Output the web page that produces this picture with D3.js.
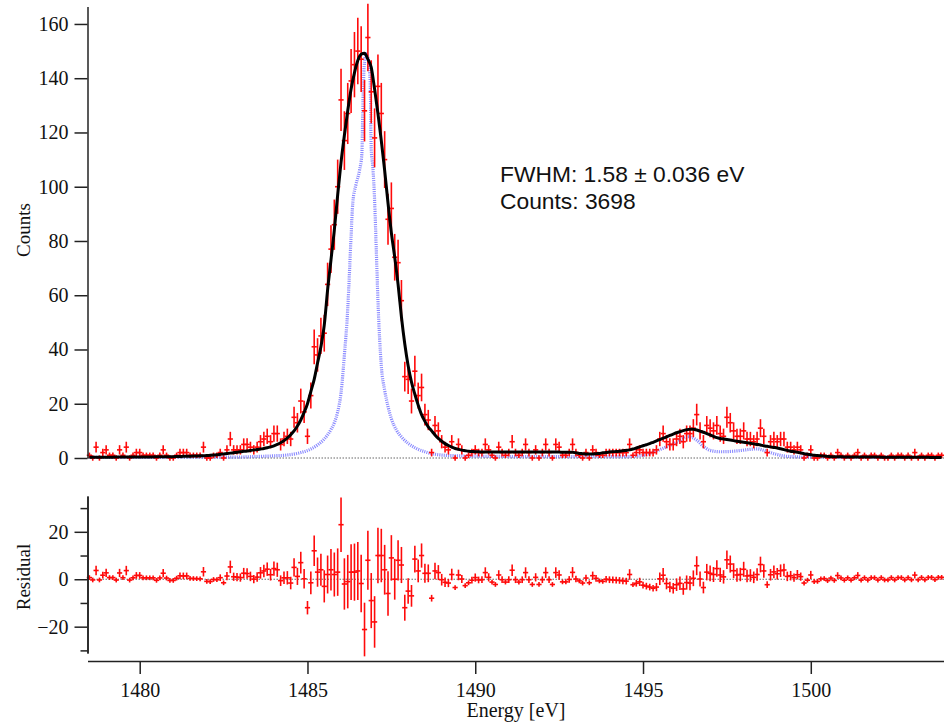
<!DOCTYPE html>
<html>
<head>
<meta charset="utf-8">
<script src="https://cdn.jsdelivr.net/npm/d3@7/dist/d3.min.js"></script>
<style>
  body { margin: 0; background: #fff; }
  svg { display: block; }
</style>
</head>
<body>
<svg id="chart" width="944" height="722"></svg>
<script>
// histogram binning: 0.1 eV bins, first bin centre at 1478.5 eV
var BIN_START = 1478.5;
var BIN_WIDTH = 0.1;

// measured counts per bin
var counts = [
    1, 0, 4, 0, 2, 3, 1, 1, 0, 3,
    1, 4, 0, 1, 2, 2, 1, 1, 1, 1,
    0, 1, 3, 1, 0, 0, 1, 2, 2, 2,
    1, 1, 1, 1, 4, 0, 0, 1, 1, 2,
    0, 3, 7, 3, 3, 3, 5, 5, 4, 3,
    4, 6, 7, 8, 6, 9, 9, 5, 7, 8,
    7, 15, 13, 21, 17, 8, 23, 41, 38, 45,
    46, 64, 77, 86, 100, 132, 117, 127, 139, 145,
    150, 147, 128, 155, 135, 118, 137, 127, 110, 88,
    92, 74, 72, 58, 30, 29, 21, 32, 23, 26,
    16, 14, 2, 12, 10, 6, 4, 3, 6, 0,
    5, 3, 0, 1, 2, 3, 2, 2, 5, 3,
    1, 0, 4, 2, 1, 2, 6, 2, 1, 2,
    5, 2, 0, 3, 0, 2, 5, 2, 0, 5,
    4, 1, 1, 2, 5, 2, 1, 0, 2, 0,
    3, 2, 1, 1, 2, 2, 2, 2, 2, 2,
    2, 5, 1, 2, 3, 2, 2, 2, 2, 3,
    7, 9, 6, 5, 5, 7, 8, 6, 9, 9,
    11, 16, 10, 6, 12, 11, 10, 12, 9, 8,
    15, 13, 10, 8, 8, 10, 7, 7, 6, 7,
    11, 8, 2, 6, 7, 6, 7, 7, 4, 4,
    3, 4, 3, 0, 1, 3, 0, 0, 1, 1,
    0, 1, 0, 2, 1, 0, 1, 0, 1, 2,
    0, 1, 0, 1, 1, 0, 1, 0, 0, 1,
    0, 1, 1, 0, 1, 0, 2, 0, 1, 0,
    1, 1, 0, 1, 1
];

// fitted model, same bins
var fit = [
    .3, .3, .3, .3, .3, .3, .3, .3, .35, .35,
    .35, .35, .35, .4, .4, .4, .4, .4, .4, .4,
    .45, .45, .45, .5, .5, .5, .55, .55, .6, .6,
    .65, .7, .75, .8, .85, .9, 1.0, 1.1, 1.2, 1.35,
    1.5, 1.65, 1.8, 1.95, 2.1, 2.3, 2.45, 2.6, 2.8, 2.95,
    3.1, 3.3, 3.5, 3.75, 4.1, 4.5, 5.0, 5.6, 6.4, 7.4,
    8.6, 10, 11.8, 14, 16.8, 20, 24.5, 29, 35, 41,
    49, 62, 73, 84, 97, 109, 119, 128, 136, 142,
    146.5, 148.8, 149.2, 147, 144, 136, 127, 117, 106, 94,
    83, 74, 64, 52, 42, 34, 28, 23.5, 19.5, 16,
    13.5, 11.5, 10, 8.5, 7.2, 6.2, 5.3, 4.6, 4.0, 3.5,
    3.2, 2.9, 2.7, 2.5, 2.4, 2.3, 2.3, 2.2, 2.2, 2.2,
    2.2, 2.2, 2.2, 2.2, 2.2, 2.2, 2.2, 2.2, 2.2, 2.2,
    2.2, 2.2, 2.2, 2.2, 2.2, 2.2, 2.2, 2.2, 2.2, 2.2,
    2.2, 2.1, 2.1, 2.1, 2.1, 1.9, 1.7, 1.6, 1.5, 1.5,
    1.5, 1.6, 1.7, 1.9, 2.0, 2.2, 2.3, 2.4, 2.5, 2.7,
    2.8, 3.0, 3.3, 3.7, 4.1, 4.5, 4.9, 5.3, 5.8, 6.3,
    6.8, 7.3, 7.8, 8.3, 8.8, 9.3, 9.7, 10.1, 10.4, 10.6,
    10.6, 10.3, 9.9, 9.5, 9.0, 8.5, 8.0, 7.5, 7.2, 7.0,
    6.8, 6.6, 6.4, 6.2, 6.0, 5.8, 5.6, 5.4, 5.2, 5.0,
    4.8, 4.5, 4.3, 4.1, 3.9, 3.7, 3.4, 3.1, 2.8, 2.5,
    2.3, 2.1, 1.9, 1.6, 1.4, 1.2, 1.0, .9, .8, .7,
    .6, .5, .5, .45, .45, .4, .4, .4, .4, .4,
    .4, .35, .35, .35, .35, .35, .3, .3, .3, .3,
    .3, .3, .3, .3, .3, .25, .25, .25, .25, .25,
    .25, .2, .2, .2, .2
];

// blue reference line shape (energy, counts)
var blueE = [1478.5, 1480.0, 1481.5, 1482.7, 1483.6, 1484.0, 1484.4, 1484.8, 1485.1, 1485.3,
    1485.5, 1485.7, 1485.8, 1485.9, 1486.0, 1486.1, 1486.2, 1486.25, 1486.3, 1486.35,
    1486.45, 1486.55, 1486.62, 1486.66, 1486.7, 1486.75, 1486.82, 1486.87, 1486.9, 1486.95,
    1487.0, 1487.05, 1487.1, 1487.15, 1487.2, 1487.3, 1487.4, 1487.5, 1487.65, 1487.8,
    1488.0, 1488.2, 1488.5, 1488.9, 1489.5, 1490.5, 1492.0, 1493.5, 1494.5, 1495.0,
    1495.4, 1495.6, 1495.9, 1496.1, 1496.3, 1496.45, 1496.6, 1496.8, 1497.0, 1497.3,
    1497.8, 1498.2, 1498.4, 1498.6, 1498.9, 1499.3, 1500.0, 1503.9];
var blueY = [0.2, 0.2, 0.3, 0.3, 0.6, 0.8, 1.1, 2.0, 3.3, 4.8,
    7.0, 10.5, 13, 17, 24, 38, 55, 68, 82, 94,
    101, 106, 112, 135, 146, 149, 146, 138, 114, 107,
    95, 77, 58, 44, 34, 25, 19, 14.5, 10.3, 7.8,
    5.4, 3.8, 2.3, 1.2, 0.8, 0.6, 0.5, 0.5, 0.5, 1.0,
    2.6, 3.6, 5.2, 6.4, 7.9, 7.6, 6.6, 4.3, 2.8, 2.3,
    2.6, 3.2, 3.4, 2.8, 1.6, 0.6, 0.3, 0.2];

var xTicks = [1480, 1485, 1490, 1495, 1500];
var countTicks = [0, 20, 40, 60, 80, 100, 120, 140, 160];
var residTicks = [-20, 0, 20];
var residMinor = [-30, -10, 10, 30];

var SERIF = "'Liberation Serif', 'Times New Roman', serif";
var SANS = "'Liberation Sans', Arial, sans-serif";

var svg = d3.select("#chart");

var x = d3.scaleLinear().domain([1478.444, 1503.97]).range([87.5, 944]);
var yTop = d3.scaleLinear().domain([0, 166.4]).range([458, 6.6]);
var yRes = d3.scaleLinear().domain([-31.1, 35.1]).range([653, 496]);

var points = counts.map(function (c, i) {
    return {
        e: BIN_START + i * BIN_WIDTH,
        n: c,
        f: fit[i],
        r: c - fit[i],
        err: Math.sqrt(Math.max(c, 1))
    };
});

function styleAxis(g) {
    g.selectAll("path.domain").attr("stroke", "#222").attr("stroke-width", 1.5);
    g.selectAll(".tick line").attr("stroke", "#222").attr("stroke-width", 1.5);
    g.selectAll("text")
        .attr("fill", "#111")
        .attr("font-family", SERIF)
        .attr("font-size", 20);
}

function zeroLine(y) {
    svg.append("line")
        .attr("x1", x.range()[0])
        .attr("x2", x.range()[1])
        .attr("y1", y)
        .attr("y2", y)
        .attr("stroke", "#666")
        .attr("stroke-width", 1)
        .attr("stroke-dasharray", "1.5,1.5");
}

function errorBars(g, yScale, key) {
    var gp = g.selectAll("g.pt").data(points).enter().append("g").attr("class", "pt");
    gp.append("line")
        .attr("x1", function (d) { return x(d.e); })
        .attr("x2", function (d) { return x(d.e); })
        .attr("y1", function (d) { return yScale(d[key] - d.err); })
        .attr("y2", function (d) { return yScale(d[key] + d.err); });
    gp.append("line")
        .attr("x1", function (d) { return x(d.e) - 2.6; })
        .attr("x2", function (d) { return x(d.e) + 2.6; })
        .attr("y1", function (d) { return yScale(d[key]); })
        .attr("y2", function (d) { return yScale(d[key]); });
    g.selectAll("line").attr("stroke", "#ff0a0a").attr("stroke-width", 1.6);
}

// ---- top panel: counts ----
zeroLine(yTop(0));

var blueLine = d3.line()
    .x(function (d) { return x(d[0]); })
    .y(function (d) { return yTop(d[1]); })
    .curve(d3.curveMonotoneX);

svg.append("path")
    .datum(blueE.map(function (e, i) { return [e, blueY[i]]; }))
    .attr("d", blueLine)
    .attr("fill", "none")
    .attr("stroke", "#6464ff")
    .attr("stroke-opacity", 0.75)
    .attr("stroke-width", 3.2)
    .attr("stroke-dasharray", "1.1,1.1");

errorBars(svg.append("g"), yTop, "n");

var fitLine = d3.line()
    .x(function (d) { return x(d.e); })
    .y(function (d) { return yTop(d.f); })
    .curve(d3.curveMonotoneX);

svg.append("path")
    .datum(points)
    .attr("d", fitLine)
    .attr("fill", "none")
    .attr("stroke", "#000")
    .attr("stroke-width", 3)
    .attr("stroke-linejoin", "round");

svg.append("g")
    .attr("transform", "translate(87.5,0)")
    .call(d3.axisLeft(yTop).tickValues(countTicks).tickSize(13).tickSizeOuter(0).tickPadding(6))
    .call(styleAxis);

svg.append("text")
    .attr("transform", "translate(30,230) rotate(-90)")
    .attr("text-anchor", "middle")
    .attr("font-family", SERIF)
    .attr("font-size", 19)
    .attr("fill", "#111")
    .text("Counts");

svg.append("text")
    .attr("x", 500)
    .attr("y", 182)
    .attr("font-family", SANS)
    .attr("font-size", 22.8)
    .attr("fill", "#111")
    .text("FWHM: 1.58 \u00b1 0.036 eV");

svg.append("text")
    .attr("x", 500)
    .attr("y", 208.5)
    .attr("font-family", SANS)
    .attr("font-size", 22.8)
    .attr("fill", "#111")
    .text("Counts: 3698");

// ---- bottom panel: residuals ----
zeroLine(yRes(0));

errorBars(svg.append("g"), yRes, "r");

svg.append("g")
    .attr("transform", "translate(87.5,0)")
    .call(d3.axisLeft(yRes).tickValues(residMinor).tickSize(7).tickSizeOuter(0).tickFormat(""))
    .call(styleAxis);

svg.append("g")
    .attr("transform", "translate(87.5,0)")
    .call(d3.axisLeft(yRes).tickValues(residTicks).tickSize(13).tickSizeOuter(0).tickPadding(6))
    .call(styleAxis);

svg.append("text")
    .attr("transform", "translate(30,577) rotate(-90)")
    .attr("text-anchor", "middle")
    .attr("font-family", SERIF)
    .attr("font-size", 19)
    .attr("fill", "#111")
    .text("Residual");

svg.append("g")
    .attr("transform", "translate(0,661)")
    .call(d3.axisBottom(x).tickValues(xTicks).tickSize(13).tickSizeOuter(0).tickPadding(9).tickFormat(d3.format("d")))
    .call(styleAxis);

svg.append("text")
    .attr("x", 516)
    .attr("y", 717)
    .attr("text-anchor", "middle")
    .attr("font-family", SERIF)
    .attr("font-size", 20)
    .attr("fill", "#111")
    .text("Energy [eV]");
</script>
</body>
</html>
